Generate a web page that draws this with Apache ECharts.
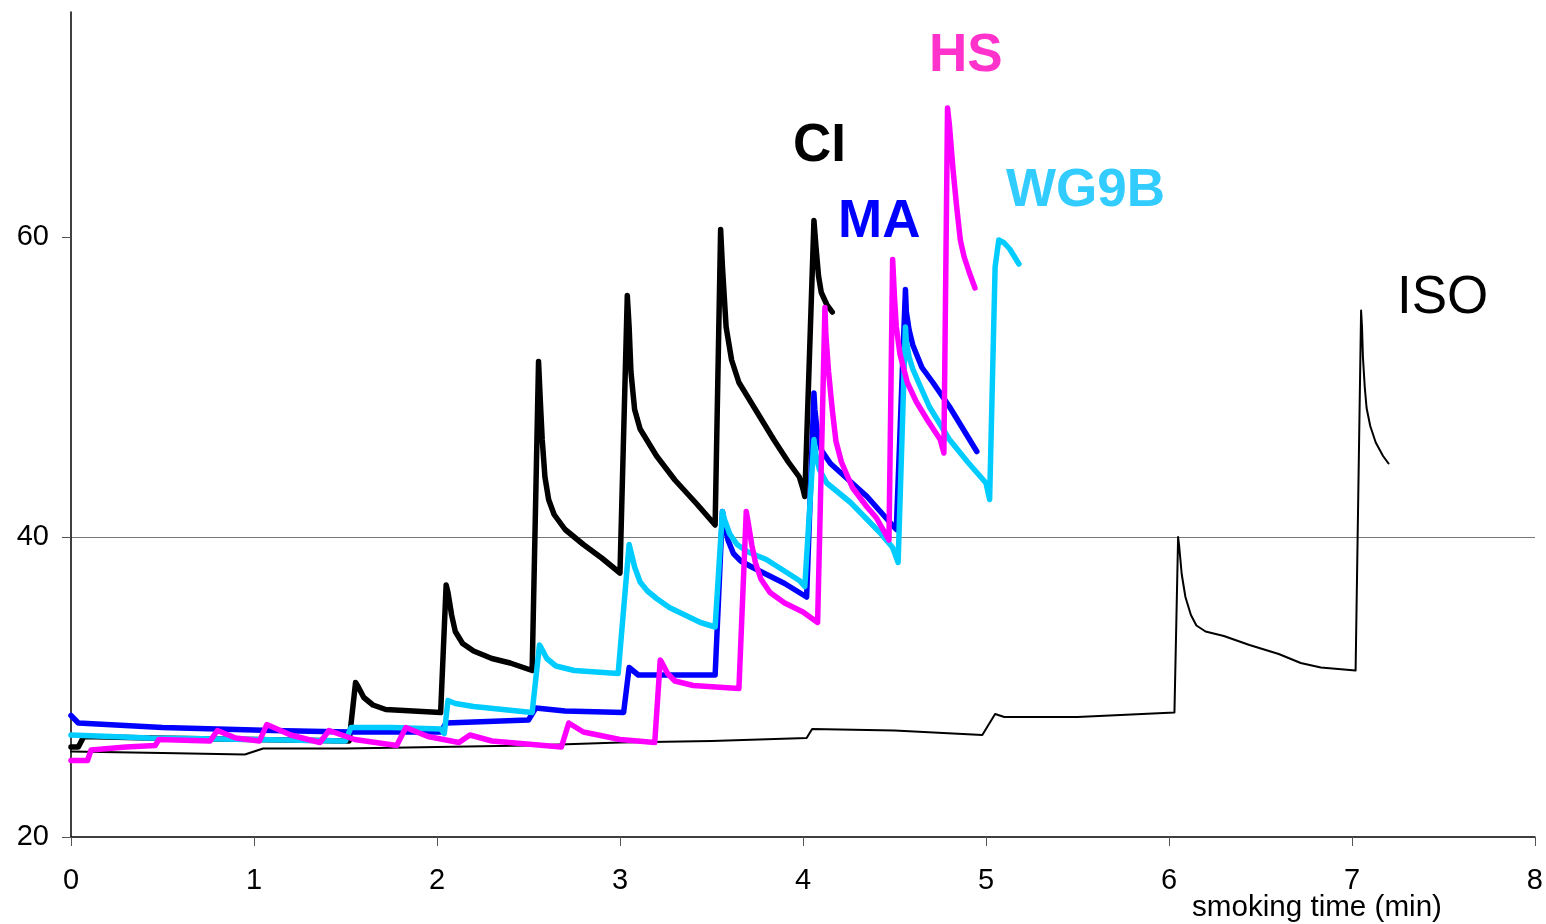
<!DOCTYPE html>
<html lang="en">
<head>
    <meta charset="UTF-8">
    <title>smoking time</title>
    <script src="https://cdn.jsdelivr.net/npm/echarts@6.0.0/dist/echarts.min.js"></script>
    <style>
        *{
            padding:0;
            margin:0;
        }
        html,body{
            height:100%;
            background:#fff;
        }
        #main{
            width:1546px;
            height:924px;
        }
    </style>
</head>
<body>
<div id="main"></div>
<script>
    // [time (min), value]
    var ci = [[0,26.0],[0.04,26.0],[0.07,26.7],[0.43,26.6],[1.0,26.5],[1.52,26.4],
        [1.555,30.3],[1.57,30.0],[1.6,29.3],[1.65,28.8],[1.72,28.5],[2.02,28.3],
        [2.05,36.8],[2.06,36.3],[2.08,34.8],[2.1,33.7],[2.14,32.9],[2.2,32.4],[2.3,31.9],[2.4,31.6],[2.52,31.1],
        [2.555,51.7],[2.565,49.0],[2.575,46.5],[2.59,44.0],[2.61,42.5],[2.64,41.5],[2.7,40.5],[2.8,39.5],[2.9,38.6],[3.0,37.6],
        [3.04,56.1],[3.05,54.0],[3.06,51.0],[3.08,48.5],[3.11,47.2],[3.15,46.4],[3.2,45.4],[3.3,43.8],[3.42,42.2],[3.52,40.8],
        [3.55,60.5],[3.56,58.0],[3.58,54.0],[3.61,51.8],[3.65,50.3],[3.73,48.7],[3.84,46.5],[3.92,45.0],[3.98,44.0],[4.0,43.2],[4.01,42.7],
        [4.06,61.1],[4.07,59.5],[4.085,57.4],[4.1,56.3],[4.13,55.5],[4.16,55.0]];
    var ma = [[0,28.1],[0.04,27.6],[0.5,27.3],[1.1,27.1],[1.52,27.0],[2.02,27.0],[2.05,27.6],[2.5,27.8],[2.54,28.6],[2.7,28.4],[3.02,28.3],
        [3.05,31.3],[3.1,30.8],[3.52,30.8],
        [3.56,41.7],[3.57,41.0],[3.59,39.8],[3.62,38.9],[3.66,38.4],[3.72,38.0],[3.9,36.9],[4.02,36.0],
        [4.06,49.6],[4.065,48.5],[4.08,46.8],[4.1,45.8],[4.15,44.9],[4.25,43.8],[4.35,42.7],[4.51,40.5],
        [4.56,56.5],[4.565,55.0],[4.58,53.8],[4.6,52.8],[4.65,51.3],[4.71,50.3],[4.8,48.7],[4.95,45.7]];
    var wg9b = [[0,26.8],[0.43,26.6],[1.0,26.5],[1.5,26.4],[1.53,27.3],[1.75,27.3],[2.02,27.2],[2.04,26.9],[2.06,29.1],[2.1,28.9],[2.2,28.7],[2.52,28.3],
        [2.56,32.8],[2.57,32.6],[2.6,31.9],[2.65,31.4],[2.75,31.1],[2.99,30.9],
        [3.05,39.5],[3.06,39.0],[3.08,38.0],[3.11,37.0],[3.15,36.4],[3.2,35.9],[3.27,35.3],[3.44,34.3],[3.52,34.0],
        [3.56,41.7],[3.57,41.2],[3.6,40.2],[3.64,39.5],[3.7,39.0],[3.8,38.5],[3.98,37.1],[4.01,36.7],
        [4.06,46.5],[4.07,45.5],[4.09,44.5],[4.13,43.6],[4.2,42.9],[4.26,42.3],[4.42,40.3],[4.49,39.3],[4.52,38.3],
        [4.56,54.0],[4.565,53.0],[4.58,52.0],[4.6,51.2],[4.65,49.8],[4.69,48.7],[4.8,46.5],[4.9,45.0],[5.0,43.6],[5.02,42.5],
        [5.05,58.0],[5.07,59.8],[5.1,59.6],[5.13,59.2],[5.16,58.6],[5.18,58.2]];
    var hs = [[0,25.1],[0.09,25.1],[0.11,25.8],[0.3,26.0],[0.46,26.1],[0.48,26.5],[0.76,26.4],[0.8,27.1],[0.9,26.6],[1.03,26.4],[1.07,27.5],[1.2,26.8],
        [1.36,26.3],[1.41,27.1],[1.55,26.5],[1.78,26.1],[1.83,27.3],[1.95,26.7],[2.12,26.3],[2.18,26.8],[2.3,26.4],[2.68,26.0],[2.72,27.6],[2.8,27.0],
        [3.0,26.5],[3.19,26.3],[3.22,31.8],[3.23,31.6],[3.26,30.9],[3.3,30.4],[3.4,30.1],[3.65,29.9],
        [3.69,41.7],[3.7,41.0],[3.72,39.5],[3.74,38.3],[3.77,37.2],[3.82,36.3],[3.9,35.6],[4.0,35.0],[4.08,34.3],
        [4.12,55.3],[4.125,53.5],[4.14,51.0],[4.16,48.5],[4.18,46.4],[4.21,45.0],[4.27,43.3],[4.35,42.0],[4.4,41.3],[4.47,39.8],
        [4.49,58.5],[4.5,56.0],[4.51,54.0],[4.53,52.2],[4.57,50.3],[4.62,49.0],[4.68,47.8],[4.75,46.5],[4.77,45.6],
        [4.79,68.6],[4.8,67.5],[4.81,66.0],[4.82,64.5],[4.84,62.0],[4.86,59.8],[4.88,58.7],[4.91,57.6],[4.94,56.6]];
    var iso = [[0,25.7],[0.5,25.6],[0.95,25.5],[1.05,25.9],[1.5,25.9],[2.0,26.0],[2.5,26.1],[3.0,26.3],[3.5,26.4],[4.02,26.6],[4.05,27.2],[4.5,27.1],[4.98,26.8],
        [5.05,28.2],[5.1,28.0],[5.5,28.0],[6.03,28.3],
        [6.05,40.0],[6.055,39.5],[6.07,37.5],[6.09,36.0],[6.12,34.8],[6.15,34.1],[6.2,33.7],[6.3,33.4],[6.44,32.8],[6.6,32.2],[6.72,31.6],[6.83,31.3],[7.02,31.1],
        [7.05,55.1],[7.055,54.0],[7.06,52.0],[7.07,50.0],[7.08,48.6],[7.1,47.4],[7.13,46.3],[7.17,45.4],[7.2,44.9]];
    var yTicks = [20, 40, 60];
    var xName = 'smoking time (min)';

    var font = '"Liberation Sans", Arial, sans-serif';
    var myChart = echarts.init(document.getElementById('main'));

    function line(name, data, color, width) {
        return {
            name: name,
            type: 'line',
            data: data,
            showSymbol: false,
            symbol: 'none',
            lineStyle: {color: color, width: width, join: 'round', cap: 'round'},
            silent: true
        };
    }

    function tag(text, x, y, color, bold) {
        return {
            type: 'text',
            x: x,
            y: y,
            style: {
                text: text,
                fill: color,
                font: (bold ? 'bold ' : '') + '53px ' + font,
                verticalAlign: 'middle'
            }
        };
    }

    var option = {
        animation: false,
        backgroundColor: '#fff',
        grid: {left: 71, right: 11, top: 12, bottom: 87},
        xAxis: {
            type: 'value',
            min: 0,
            max: 8,
            interval: 1,
            axisLine: {lineStyle: {color: '#000', width: 1.5}},
            axisTick: {show: true, length: 9, lineStyle: {color: '#555'}},
            axisLabel: {fontSize: 29, color: '#000', fontFamily: font, margin: 29},
            splitLine: {show: false}
        },
        yAxis: {
            type: 'value',
            min: 20,
            max: 75,
            interval: 20,
            axisLine: {show: true, lineStyle: {color: '#000', width: 1.5}},
            axisTick: {show: true, length: 9, customValues: yTicks, lineStyle: {color: '#555'}},
            axisLabel: {fontSize: 29, color: '#000', fontFamily: font, margin: 22, customValues: yTicks},
            splitLine: {show: true, showMinLine: false, showMaxLine: false, lineStyle: {color: '#777', width: 1}}
        },
        graphic: [
            {
                type: 'text',
                x: 1192,
                y: 908,
                style: {text: xName, fill: '#000', font: '29.6px ' + font, verticalAlign: 'middle'}
            },
            tag('CI', 793, 146, '#000', true),
            tag('MA', 838, 222, '#0000ff', true),
            tag('HS', 929, 56, '#ff33cc', true),
            tag('WG9B', 1006, 191, '#33ccff', true),
            tag('ISO', 1397, 298, '#000', false)
        ],
        series: [
            line('ISO', iso, '#000', 2),
            line('CI', ci, '#000', 5.5),
            line('MA', ma, '#0000ff', 5.5),
            line('WG9B', wg9b, '#00ccff', 5.5),
            line('HS', hs, '#ff00ff', 5.5)
        ]
    };
    myChart.setOption(option);
</script>
</body>
</html>
